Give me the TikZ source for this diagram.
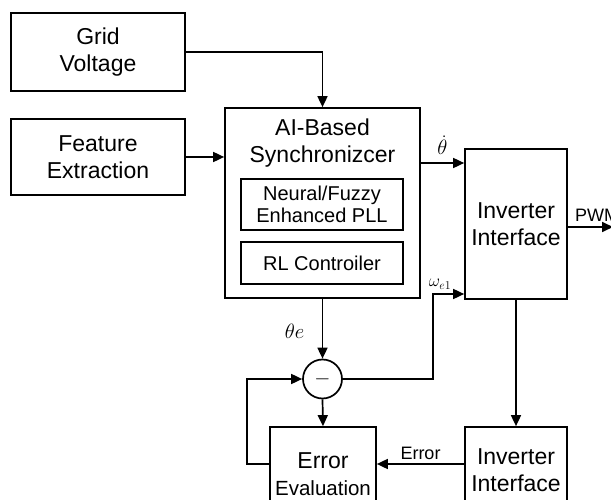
\documentclass[tikz,border=0pt]{standalone}
\usepackage{amsmath}
\usepackage{fontspec}
\setmainfont{Liberation Sans}
\usetikzlibrary{arrows.meta}

\begin{document}
\begin{tikzpicture}[x=1pt,y=-1pt,
        blk/.style={draw,line width=1.7pt,align=center,inner sep=0pt,font=\fontsize{23}{27}\selectfont},
        sub/.style={blk,font=\fontsize{20}{22}\selectfont,minimum width=162pt},
        arr/.style={line width=1.7pt,-{Triangle[length=11pt,width=10pt]}},
        lbl/.style={font=\fontsize{18}{20}\selectfont,inner sep=1pt}]
        \clip (0,0) rectangle (611,500);
        % input blocks
        \node[blk,minimum width=174pt,minimum height=78pt] (grid) at (98,52) {Grid\\Voltage};
        \node[blk,minimum width=174pt,minimum height=76pt] (feat) at (98,157) {Feature\\Extraction};
        % synchronizer with its two sub-blocks
        \node[blk,minimum width=195pt,minimum height=190pt] (sync) at (322.5,203) {};
        \node[align=center,font=\fontsize{23}{27}\selectfont] (synct) at (322.5,143) {AI-Based\\Synchronizcer};
        \node[sub,minimum height=51pt] (pll) at (322,204.5) {Neural/Fuzzy\\Enhanced PLL};
        \node[sub,minimum height=42pt] (rl) at (322,263) {RL Controiler};
        % inverter, summing point, error path
        \node[blk,minimum width=102pt,minimum height=150pt] (inv) at (516,224) {Inverter\\Interface};
        \node[draw,circle,line width=1.7pt,minimum size=39pt,inner sep=0pt,font=\fontsize{20}{20}\selectfont] (sum) at (322.5,379) {$-$};
        \node[blk,minimum width=106pt,minimum height=94pt] (err) at (323,474) {Error\\{\fontsize{20.5}{23}\selectfont Evaluation}};
        \node[blk,minimum width=102pt,minimum height=86pt] (inv2) at (516,470) {Inverter\\Interface};

        \coordinate (wbend) at (433,294);
        \coordinate (pwm) at (613,227);

        \draw[arr] (grid.east) -| (sync.north);
        \draw[arr] (feat.east) -- (feat.east -| sync.west);
        \draw[arr] ([yshift=40pt]sync.east) coordinate (thd) -- (thd -| inv.west)
            node[pos=0.5,above=4pt,font=\fontsize{20}{20}\selectfont] {$\dot{\theta}$};
        \draw[arr] ([yshift=-3pt]inv.east) -- (pwm);
        \node[lbl,anchor=west] (pwmt) at (574,215) {PWM};
        \draw[arr] (sync.south) -- (sum.north)
            node[pos=0.55,left=14pt,font=\fontsize{20}{20}\selectfont] {$\theta e$};
        \draw[arr] (sum.east) -| (wbend) -- (wbend -| inv.west);
        \node[font=\fontsize{17}{17}\selectfont,inner sep=0pt] (wlbl) at (440,284) {$\omega_{e1}$};
        \draw[arr] (sum.south) -- (err.north);
        \draw[arr] ([yshift=10pt]err.west) -- ++(-22,0) |- (sum.west);
        \draw[arr] (inv.south) -- (inv2.north);
        \draw[arr] ([yshift=6pt]inv2.west) coordinate (e1) -- (e1 -| err.east)
            node[midway,above=2pt,lbl] {Error};
    \end{tikzpicture}
\end{document}
